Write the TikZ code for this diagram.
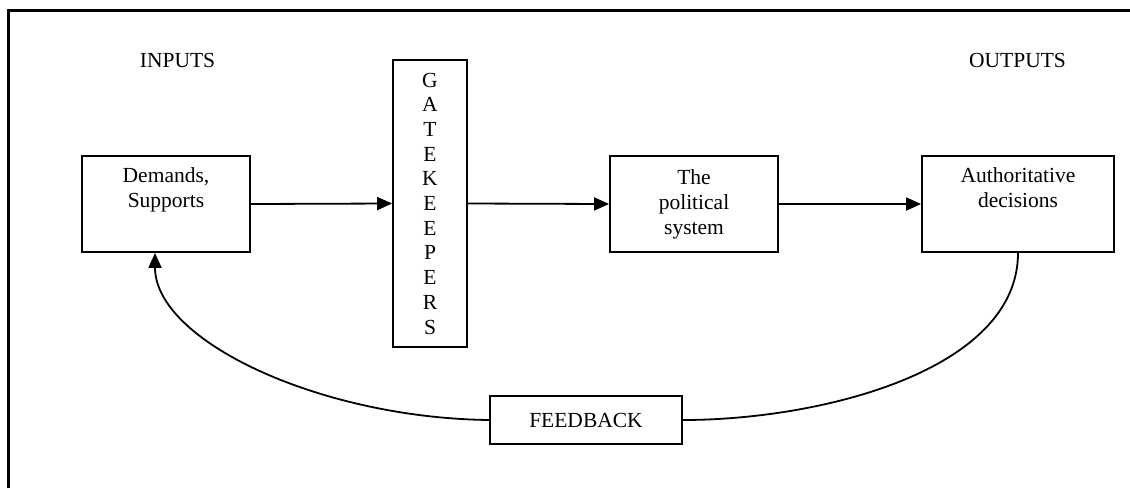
\documentclass[tikz,border=0pt]{standalone}
\usepackage{fontspec}
\setmainfont{Liberation Serif}
\usetikzlibrary{arrows.meta}
\begin{document}
\begin{tikzpicture}[x=1pt,y=-1pt,
  box/.style={draw, line width=1.8pt, inner sep=0pt, align=center, font=\fontsize{21.5}{25}\selectfont},
  lbl/.style={inner sep=0pt, font=\fontsize{21.5}{25}\selectfont},
  conn/.style={line width=1.8pt, -{Triangle[length=15pt,width=13pt]}},
  plain/.style={line width=1.8pt},
  frame/.style={line width=3pt, line join=miter}
]
\useasboundingbox (0,0) rectangle (1130,488);
\draw[frame] (8.5,488) -- (8.5,10) -- (1130,10);

\node[lbl, anchor=base] (in) at (177.5,67) {INPUTS};
\node[lbl, anchor=base] (out) at (1017.5,67) {OUTPUTS};

\node[box, minimum width=168, minimum height=96] (dem) at (166,204) {Demands,\\Supports\\\strut};
\node[box, minimum width=74, minimum height=287, font=\fontsize{21.5}{24.7}\selectfont] (gate) at (430,203.5) {G\\A\\T\\E\\K\\E\\E\\P\\E\\R\\S};
\node[box, minimum width=168, minimum height=96] (pol) at (694,204) {The\\political\\system};
\node[box, minimum width=192, minimum height=96] (auth) at (1018,204) {Authoritative\\decisions\\\strut};
\node[box, minimum width=192, minimum height=48] (fb) at (586,420) {FEEDBACK};

\draw[conn] (dem.east) -- (gate.west);
\draw[conn] (gate.east) -- (pol.west);
\draw[conn] (pol.east) -- (auth.west);

\draw[plain] (auth.south) .. controls ([yshift=-118pt]auth.south) and (820,420) .. (fb.east);
\draw[conn] (fb.west) .. controls (320,418) and ([xshift=-11pt,yshift=-88pt]dem.south) .. ([xshift=-11pt]dem.south);
\end{tikzpicture}
\end{document}
